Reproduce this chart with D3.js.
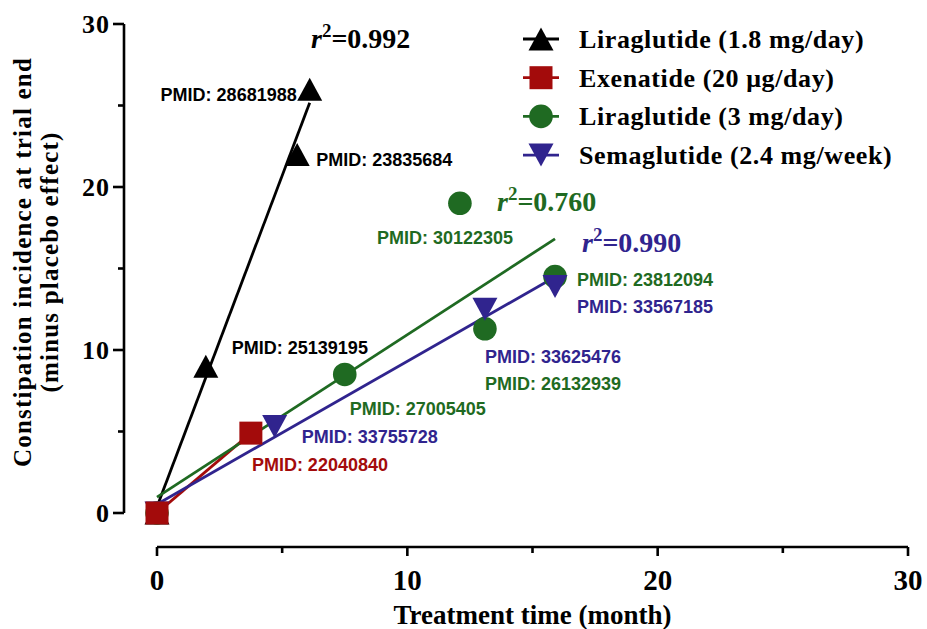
<!DOCTYPE html>
<html>
<head>
<meta charset="utf-8">
<script src="https://cdn.jsdelivr.net/npm/d3@7"></script>
<style>
  html, body { margin: 0; padding: 0; background: #fff; }
  svg { display: block; }
</style>
</head>
<body>
<svg id="chart" width="927" height="629"></svg>
<script>
// ---------------- DATA ----------------
const seriesNames = ["Liraglutide (1.8 mg/day)", "Exenatide (20 μg/day)", "Liraglutide (3 mg/day)", "Semaglutide (2.4 mg/week)"];
const lira18Months = [0, 1.95, 5.6, 6.1];
const lira18Values = [0, 9.0, 22.0, 26.0];
const exenMonths = [0, 3.75];
const exenValues = [0, 4.9];
const lira3Months = [0, 7.5, 12.1, 13.1, 15.9];
const lira3Values = [0, 8.5, 19.0, 11.3, 14.5];
const semaMonths = [0, 4.7, 13.1, 15.9];
const semaValues = [0, 5.3, 12.5, 13.9];
const rSquaredLabels = ["0.992", null, "0.760", "0.990"];
const xTicks = [0, 10, 20, 30];
const yTicks = [0, 10, 20, 30];
const minorTicks = [5, 15, 25];
// PMID labels: [series index, point index, text]
const pmidSeries = [0, 0, 0, 1, 2, 2, 2, 2, 3, 3, 3];
const pmidPoint  = [3, 2, 1, 1, 2, 1, 3, 4, 1, 2, 3];
const pmidTexts  = ["PMID: 28681988", "PMID: 23835684", "PMID: 25139195", "PMID: 22040840",
                    "PMID: 30122305", "PMID: 27005405", "PMID: 26132939", "PMID: 23812094",
                    "PMID: 33755728", "PMID: 33625476", "PMID: 33567185"];

// ---------------- STYLE / LAYOUT ----------------
const colors = ["#000000", "#a30b0b", "#1f6a22", "#30248e"];
const shapes = ["up", "square", "circle", "down"];
const serif = "'Liberation Serif', 'Times New Roman', serif";
const sans = "'Liberation Sans', Arial, sans-serif";

const series = [
  {x: lira18Months, y: lira18Values},
  {x: exenMonths, y: exenValues},
  {x: lira3Months, y: lira3Values},
  {x: semaMonths, y: semaValues}
].map((s, i) => ({name: seriesNames[i], color: colors[i], shape: shapes[i], r2: rSquaredLabels[i],
  pts: s.x.map((v, j) => ({x: v, y: s.y[j]}))}));

const svg = d3.select("#chart");
const x = d3.scaleLinear().domain([0, 30]).range([157, 908]);
const y = d3.scaleLinear().domain([0, 30]).range([513, 24]);

function markerPath(shape) {
  if (shape === "up") return "M0,-11.5L12.5,11.5L-12.5,11.5Z";
  if (shape === "down") return "M0,11.5L12.5,-11.5L-12.5,-11.5Z";
  if (shape === "square") return "M-11.5,-11.5H11.5V11.5H-11.5Z";
  return d3.symbol(d3.symbolCircle, Math.PI * 11.8 * 11.8)();
}

// ---------------- AXES ----------------
const yAxisG = svg.append("g").attr("transform", "translate(124,0)");
yAxisG.append("line").attr("x1", 0).attr("x2", 0).attr("y1", y(30)).attr("y2", y(0))
  .attr("stroke", "#000").attr("stroke-width", 2.6);
yAxisG.selectAll(".ymaj").data(yTicks).join("line")
  .attr("x1", -11).attr("x2", 0).attr("y1", d => y(d)).attr("y2", d => y(d))
  .attr("stroke", "#000").attr("stroke-width", 2.6);
yAxisG.selectAll(".ymin").data(minorTicks).join("line")
  .attr("x1", -6).attr("x2", 0).attr("y1", d => y(d)).attr("y2", d => y(d))
  .attr("stroke", "#000").attr("stroke-width", 2.6);
yAxisG.selectAll(".ylab").data(yTicks).join("text")
  .attr("x", -14).attr("y", d => y(d) + 8.5)
  .attr("text-anchor", "end").attr("font-family", serif).attr("font-weight", "bold")
  .attr("font-size", 26).attr("letter-spacing", 1).text(d => d);

const xAxisG = svg.append("g").attr("transform", "translate(0,547)");
xAxisG.append("line").attr("x1", x(0)).attr("x2", x(30)).attr("y1", 0).attr("y2", 0)
  .attr("stroke", "#000").attr("stroke-width", 2.6);
xAxisG.selectAll(".xmaj").data(xTicks).join("line")
  .attr("x1", d => x(d)).attr("x2", d => x(d)).attr("y1", 0).attr("y2", 9)
  .attr("stroke", "#000").attr("stroke-width", 2.6);
xAxisG.selectAll(".xmin").data(minorTicks).join("line")
  .attr("x1", d => x(d)).attr("x2", d => x(d)).attr("y1", 0).attr("y2", 6)
  .attr("stroke", "#000").attr("stroke-width", 2.6);
xAxisG.selectAll(".xlab").data(xTicks).join("text")
  .attr("x", d => x(d)).attr("y", 43)
  .attr("text-anchor", "middle").attr("font-family", serif).attr("font-weight", "bold")
  .attr("font-size", 29).text(d => d);

svg.append("text").attr("x", (x(0) + x(30)) / 2).attr("y", 624)
  .attr("text-anchor", "middle").attr("font-family", serif).attr("font-weight", "bold")
  .attr("font-size", 27).text("Treatment time (month)");

const yTitle = svg.append("text").attr("transform", `translate(0,262) rotate(-90)`)
  .attr("text-anchor", "middle").attr("font-family", serif).attr("font-weight", "bold")
  .attr("font-size", 25).attr("letter-spacing", 1.2);
yTitle.append("tspan").attr("x", 0).attr("y", 31).text("Constipation incidence at trial end");
yTitle.append("tspan").attr("x", 0).attr("y", 58).text("(minus placebo effect)");

// ---------------- REGRESSION LINES ----------------
function fit(pts) {
  const mx = d3.mean(pts, p => p.x), my = d3.mean(pts, p => p.y);
  const sxy = d3.sum(pts, p => (p.x - mx) * (p.y - my));
  const sxx = d3.sum(pts, p => (p.x - mx) ** 2);
  const b = sxy / sxx, a = my - b * mx;
  const x0 = d3.min(pts, p => p.x), x1 = d3.max(pts, p => p.x);
  return [{x: x0, y: a + b * x0}, {x: x1, y: a + b * x1}];
}
const line = d3.line().x(d => x(d.x)).y(d => y(d.y));
series.forEach(s => {
  svg.append("path").attr("d", line(fit(s.pts))).attr("fill", "none")
    .attr("stroke", s.color).attr("stroke-width", 2.8);
});

// ---------------- MARKERS ----------------
const drawOrder = [0, 2, 3, 1];
drawOrder.forEach(i => {
  const s = series[i];
  svg.append("g").selectAll("path").data(s.pts).join("path")
    .attr("transform", d => `translate(${x(d.x)},${y(d.y)})`)
    .attr("d", markerPath(s.shape)).attr("fill", s.color);
});

// ---------------- PMID LABELS ----------------
// offsets (pixels) from the labelled point and anchor
const pmidLayout = [
  {dx: -13, dy: 12, anchor: "end"},
  {dx: 19, dy: 12, anchor: "start"},
  {dx: 26, dy: -12, anchor: "start"},
  {dx: 1, dy: 38, anchor: "start"},
  {dx: -83, dy: 41, anchor: "start"},
  {dx: 5, dy: 41, anchor: "start"},
  {dx: 0, dy: 61, anchor: "start"},
  {dx: 22, dy: 9, anchor: "start"},
  {dx: 27, dy: 16, anchor: "start"},
  {dx: 0, dy: 54, anchor: "start"},
  {dx: 22, dy: 27, anchor: "start"}
];
pmidTexts.forEach((t, k) => {
  const s = series[pmidSeries[k]];
  const p = s.pts[pmidPoint[k]];
  const L = pmidLayout[k];
  svg.append("text").attr("x", x(p.x) + L.dx).attr("y", y(p.y) + L.dy)
    .attr("text-anchor", L.anchor).attr("font-family", sans).attr("font-weight", "bold")
    .attr("font-size", 18).attr("fill", s.color).text(t);
});

// ---------------- R² LABELS ----------------
const r2Pos = [{px: 311, py: 48}, null, {px: 497, py: 211}, {px: 582, py: 252}];
series.forEach((s, i) => {
  if (!s.r2) return;
  const t = svg.append("text").attr("x", r2Pos[i].px).attr("y", r2Pos[i].py)
    .attr("font-family", serif).attr("font-weight", "bold").attr("font-size", 28)
    .attr("fill", s.color);
  t.append("tspan").attr("font-style", "italic").text("r");
  t.append("tspan").attr("dy", -11).attr("font-size", 19).text("2");
  t.append("tspan").attr("dy", 11).text("=" + s.r2);
});

// ---------------- LEGEND ----------------
const legend = svg.append("g");
series.forEach((s, i) => {
  const cy = 39 + i * 38.7;
  const g = legend.append("g").attr("transform", `translate(0,${cy})`);
  g.append("line").attr("x1", 523).attr("x2", 559).attr("y1", 0).attr("y2", 0)
    .attr("stroke", s.color).attr("stroke-width", 2.8);
  g.append("path").attr("transform", "translate(541,0)").attr("d", markerPath(s.shape)).attr("fill", s.color);
  g.append("text").attr("x", 579).attr("y", 9).attr("font-family", serif).attr("font-weight", "bold")
    .attr("font-size", 26).attr("letter-spacing", 0.6).attr("fill", "#000").text(s.name);
});
</script>
</body>
</html>
